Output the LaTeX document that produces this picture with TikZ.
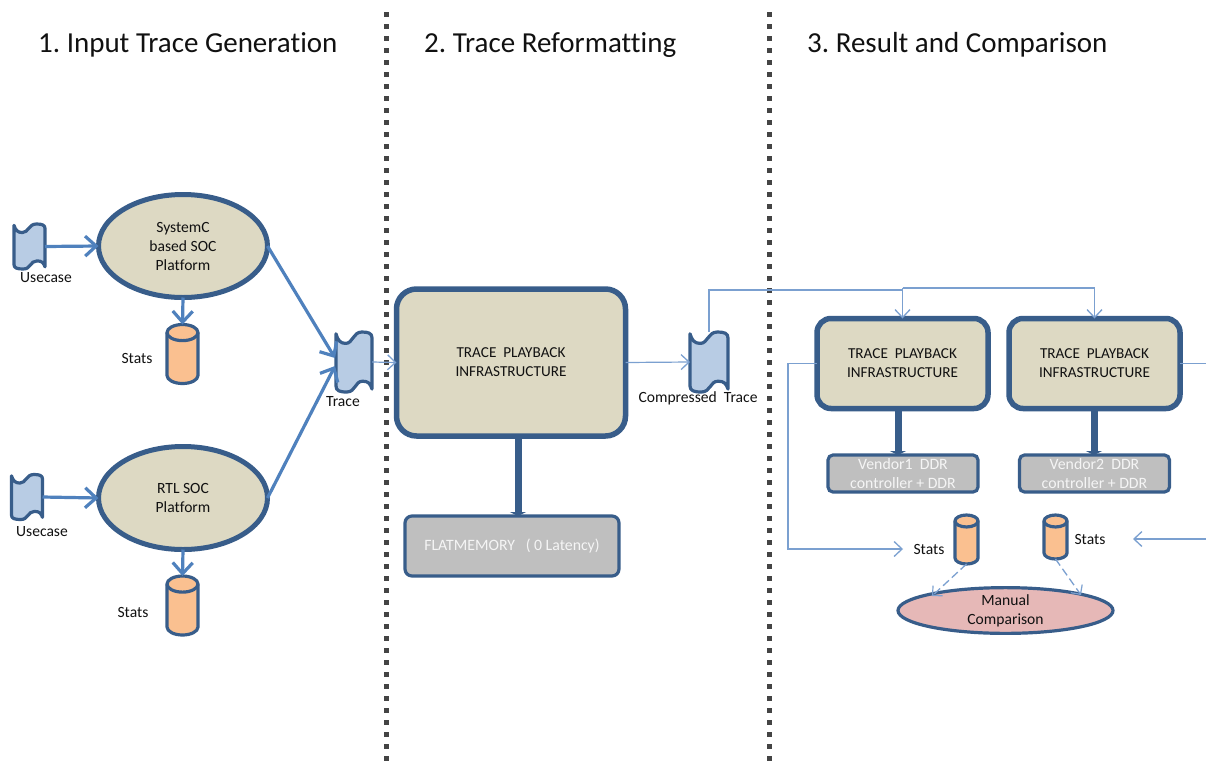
\documentclass[tikz,border=0pt]{standalone}
\usepackage{fontspec}
\setmainfont[Ligatures=NoCommon]{Carlito}
\usetikzlibrary{arrows.meta,shapes.geometric,calc}
\definecolor{dkblue}{HTML}{385D8A}
\definecolor{midblue}{HTML}{4F81BD}
\definecolor{ltline}{HTML}{7BA0D0}
\definecolor{tan}{HTML}{DDD9C3}
\definecolor{tapefill}{HTML}{B8CCE4}
\definecolor{cylfill}{HTML}{FAC090}
\definecolor{grayfill}{HTML}{BFBFBF}
\definecolor{pinkfill}{HTML}{E6B8B7}
\definecolor{divider}{HTML}{444444}
\definecolor{txt}{HTML}{111111}
\frenchspacing
\tikzset{
  anchorbox/.style={inner sep=0pt,outer sep=0pt,rectangle},
  shapeline/.style={draw=dkblue,line width=3.2pt,line join=round},
  titletext/.style={font=\fontsize{29}{30}\selectfont,text=txt,anchor=west,inner sep=0pt},
  small/.style={font=\fontsize{15.6}{19}\selectfont,text=txt,align=center,inner sep=0pt},
  oval/.style={ellipse,draw=dkblue,fill=tan,line width=5pt,inner sep=0pt,outer sep=0pt,align=center,font=\fontsize{15.6}{19}\selectfont,text=txt},
  bigbox/.style={rectangle,draw=dkblue,fill=tan,line width=5.5pt,rounded corners=20pt,inner sep=0pt,outer sep=0pt,align=center,font=\fontsize{15.2}{19}\selectfont,text=txt},
  memorybox/.style={rectangle,draw=dkblue,fill=grayfill,line width=3.2pt,rounded corners=7pt,inner sep=0pt,outer sep=0pt,align=center,font=\fontsize{15.8}{19}\selectfont,text=white!92!gray},
  divline/.style={draw=divider,line width=5pt,dash pattern=on 5pt off 7pt},
  medarrow/.style={draw=midblue,line width=3.2pt,-{Straight Barb[length=11pt,width=20pt,line width=3.2pt]}},
  thinarrow/.style={draw=ltline,line width=1.2pt,-{Straight Barb[length=8pt,width=15pt,line width=1.3pt]}},
  thinline/.style={draw=ltline,line width=1.2pt},
  dashedarrow/.style={draw=ltline,line width=1.3pt,dashed,dash pattern=on 8pt off 4pt,-{Straight Barb[length=7pt,width=14pt,line width=1.2pt]}},
  thickarrow/.style={draw=dkblue,line width=7pt,-{Triangle[length=4pt,width=16pt]}},
}
\newcommand{\tapeshape}[5]{%
  \node[anchorbox,minimum width=#4pt,minimum height=#5pt] (#1) at (#2,#3) {};
  \begin{scope}[shift={(#1.north west)},x=#4pt,y=-#5pt]
    \draw[shapeline,fill=tapefill] (0,.03)
      .. controls (.05,.14) and (.12,.19) .. (.27,.19)
      .. controls (.47,.19) and (.47,0) .. (.72,0)
      .. controls (.9,0) and (1,.02) .. (1,.1)
      -- (1,.95)
      .. controls (.95,.86) and (.9,.82) .. (.74,.82)
      .. controls (.52,.82) and (.55,1) .. (.3,1)
      .. controls (.1,1) and (0,.98) .. (0,.9) -- cycle;
  \end{scope}}
\newcommand{\cylshape}[5]{%
  \node[anchorbox,minimum width=#4pt,minimum height=#5pt] (#1) at (#2,#3) {};
  \pgfmathsetmacro{\cylrx}{#4/2}
  \pgfmathsetmacro{\cylry}{#4*0.26}
  \pgfmathsetmacro{\cylbot}{#5-\cylry}
  \begin{scope}[shift={(#1.north west)}]
    \draw[shapeline,fill=cylfill] (0,\cylry) -- (0,\cylbot)
      arc[start angle=180,end angle=360,x radius=\cylrx pt,y radius=\cylry pt]
      -- (#4,\cylry)
      arc[start angle=0,end angle=180,x radius=\cylrx pt,y radius=\cylry pt] -- cycle;
    \draw[shapeline] (0,\cylry)
      arc[start angle=180,end angle=360,x radius=\cylrx pt,y radius=\cylry pt];
  \end{scope}}
\begin{document}
\begin{tikzpicture}[x=1pt,y=-1pt]
\useasboundingbox (0,0) rectangle (1206,766);
\fill[white] (0,0) rectangle (1206,766);
% dividers
\coordinate (d1a) at (386,12); \coordinate (d1b) at (386,766);
\coordinate (d2a) at (769,12); \coordinate (d2b) at (769,766);
\draw[divline] (d1a) -- (d1b);
\draw[divline] (d2a) -- (d2b);
% titles
\node[titletext] (t1) at (38,45) {1. Input Trace Generation};
\node[titletext] (t2) at (424,45) {2. Trace Reformatting};
\node[titletext] (t3) at (807,45) {3. Result and Comparison};
% section 1
\node[oval,minimum width=169pt,minimum height=103pt] (sys) at (183,246) {SystemC\\based SOC\\Platform};
\node[oval,minimum width=169pt,minimum height=103pt] (rtl) at (183,498) {RTL SOC\\Platform};
\tapeshape{uca}{29.5}{246.5}{31}{45}
\tapeshape{ucb}{27}{497}{31}{45}
\node[small] (ucal) at (46,278) {Usecase};
\node[small] (ucbl) at (42,532) {Usecase};
\cylshape{sta}{182.5}{354}{31}{59}
\cylshape{stb}{182.5}{605.5}{31}{59}
\node[small] (stal) at (137,358) {Stats};
\node[small] (stbl) at (133,612) {Stats};
\tapeshape{trace}{354}{362}{36}{60}
\node[small] (tracel) at (343,402) {Trace};
\draw[medarrow] (uca.east) -- (sys.west);
\draw[medarrow] (ucb.east) -- (rtl.west);
\draw[medarrow] (sys.south) -- (sta.north);
\draw[medarrow] (rtl.south) -- (stb.north);
\coordinate (trin1) at (335,358);
\coordinate (trin2) at (335,366);
\draw[medarrow] (sys.east) -- (trin1);
\draw[medarrow] (rtl.east) -- (trin2);
% section 2
\node[bigbox,minimum width=229pt,minimum height=147pt] (play) at (511,362.5) {TRACE\ \ PLAYBACK\\INFRASTRUCTURE};
\node[memorybox,minimum width=214pt,minimum height=60pt] (flat) at (512,546) {FLATMEMORY\ \ \ ( 0 Latency)};
\draw[thickarrow] (play.south -| 518,0) -- (flat.north -| 518,0);
\draw[thinarrow] (trace.east) -- (play.west);
% compressed trace
\tapeshape{comp}{709}{362}{38}{60}
\node[small] (compl) at (698,398) {Compressed\ \ Trace};
\draw[thinarrow] (play.east) -- (comp.west);
% section 3
\node[bigbox,minimum width=171pt,minimum height=90pt,rounded corners=14pt] (pa) at (902.5,363.5) {TRACE\ \ PLAYBACK\\INFRASTRUCTURE};
\node[bigbox,minimum width=171pt,minimum height=90pt,rounded corners=14pt] (pb) at (1094.5,363.5) {TRACE\ \ PLAYBACK\\INFRASTRUCTURE};
\node[memorybox,minimum width=150pt,minimum height=37pt,rounded corners=5pt] (va) at (903,473.5) {Vendor1\ \ DDR\\controller + DDR};
\node[memorybox,minimum width=150pt,minimum height=37pt,rounded corners=5pt] (vb) at (1094.5,473.5) {Vendor2\ \ DDR\\controller + DDR};
\draw[thickarrow] (pa.south -| 898,0) -- (va.north -| 898,0);
\draw[thickarrow] (pb.south -| 1094,0) -- (vb.north -| 1094,0);
\cylshape{ca}{966.5}{539.5}{23}{49}
\cylshape{cb}{1055.5}{537}{23}{44}
\node[small] (cal) at (929,549) {Stats};
\node[small] (cbl) at (1090,539) {Stats};
\node[oval,line width=3.2pt,fill=pinkfill,minimum width=215pt,minimum height=42pt] (man) at (1005.5,610.5) {Manual\\Comparison};
\coordinate (mana) at (932,596);
\coordinate (manb) at (1081,595);
\draw[dashedarrow] (ca.south) -- (mana);
\draw[dashedarrow] (cb.south) -- (manb);
% routed connectors
\coordinate (busa) at (709,290);
\coordinate (busb) at (902,288);
\draw[thinline] (comp.north -| 709,0) -- (busa) -- (busa -| pa.north);
\draw[thinarrow] (busb -| pa.north) -- (pa.north);
\draw[thinline] (busb -| pa.north) -- (busb -| pb.north);
\draw[thinarrow] (busb -| pb.north) -- (pb.north);
\coordinate (leftelbow) at (788,363.5);
\coordinate (leftend) at (903,549);
\draw[thinarrow] (pa.west) -- (leftelbow) |- (leftend);
\coordinate (rightfree) at (1206,363.5);
\draw[thinline] (pb.east) -- (rightfree);
\coordinate (rightin) at (1206,539);
\coordinate (rightend) at (1133,539);
\draw[thinarrow] (rightin) -- (rightend);
\end{tikzpicture}
\end{document}
